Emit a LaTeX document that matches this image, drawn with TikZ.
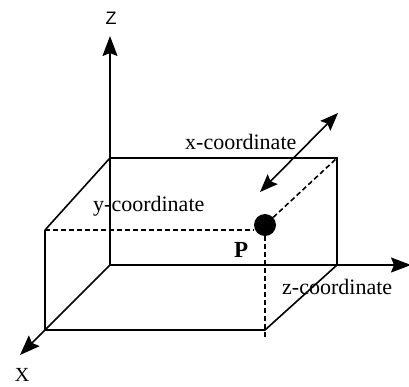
\documentclass[tikz,border=0pt]{standalone}
\usepackage{fontspec}
\setmainfont{Liberation Serif}
\newfontfamily\axsans{Liberation Sans}
\usetikzlibrary{arrows.meta}
\begin{document}
\begin{tikzpicture}[x=1pt,y=-1pt,
  edge/.style={line width=1.6pt},
  dsh/.style={line width=1.6pt,dash pattern=on 5pt off 3pt},
  axarrow/.style={line width=1.6pt,-{Stealth[length=20pt,width=15pt,inset=3pt]}},
  lbl/.style={inner sep=0pt,anchor=base west,font=\fontsize{22}{25}\selectfont}]
\useasboundingbox (0,0) rectangle (409,386);
% corners
\coordinate (O) at (110,265);
\coordinate (BTL) at (110,158);
\coordinate (BTR) at (337,158);
\coordinate (BBR) at (337,265);
\coordinate (FTL) at (45,230);
\coordinate (FBL) at (45,330);
\coordinate (FBR) at (265,330);
\coordinate (Zt) at (110,36);
\coordinate (Xt) at (20,355);
\coordinate (Yt) at (411,265);
\coordinate (Dlow) at (265,337);
\coordinate (A1) at (338,113);
\coordinate (A2) at (260,192);
% axes
\draw[axarrow] (O) -- (Zt);
\draw[axarrow] (O) -- (Xt);
\draw[axarrow] (O) -- (Yt);
% box solid edges
\draw[edge] (FTL) -- (BTL) -- (BTR) -- (BBR);
\draw[edge] (FTL) -- (FBL) -- (FBR) -- (BBR);
% point P
\node[circle,fill=black,inner sep=0pt,minimum size=22pt] (P) at (265,225) {};
\draw[dsh] (FTL) -- (P.west |- FTL);
\draw[dsh] (P) -- (Dlow);
\draw[dsh] (P) -- (BTR);
% double arrow
\draw[line width=1.6pt,{Stealth[length=18pt,width=14pt,inset=3pt]}-{Stealth[length=18pt,width=14pt,inset=3pt]}] (A2) -- (A1);
% labels
\node[lbl] (lx) at (185,149) {x-coordinate};
\node[lbl] (ly) at (93,211) {y-coordinate};
\node[lbl] (lz) at (282,294) {z-coordinate};
\node[lbl,font=\fontsize{23}{26}\selectfont\bfseries] (lP) at (234,257) {P};
\node[font=\axsans\fontsize{18}{21}\selectfont,inner sep=0pt] (lZ) at (111,18) {Z};
\node[font=\fontsize{20}{22}\selectfont,inner sep=0pt] (lX) at (22,375) {X};
\end{tikzpicture}
\end{document}
